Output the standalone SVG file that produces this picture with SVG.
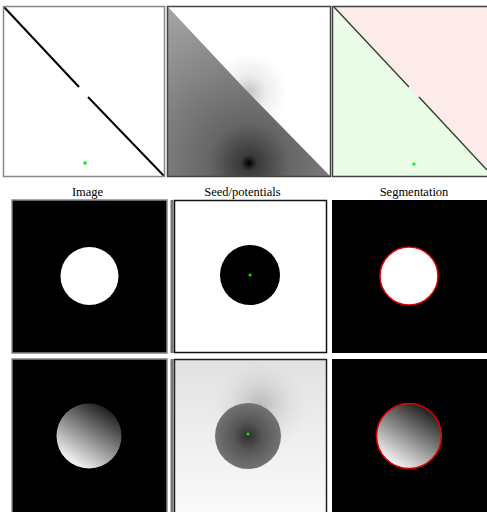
<svg xmlns="http://www.w3.org/2000/svg" width="487" height="512" viewBox="0 0 487 512">
<style>
.pbord{fill:none;stroke:#444;stroke-width:1.5}
.gbord{fill:none;stroke:#888;stroke-width:1.5}
.title{font-family:"Liberation Serif","Times New Roman",serif;font-size:12.5px;fill:#000;text-anchor:middle}
.seed{fill:#00ee00}
</style>
<defs>
<clipPath id="cB"><rect x="168" y="7" width="163" height="170"/></clipPath>
<clipPath id="cC"><rect x="332" y="7" width="155" height="170"/></clipPath>
<radialGradient id="potLow" cx="249" cy="163" r="200" gradientUnits="userSpaceOnUse">
<stop offset="0" stop-color="#000"/>
<stop offset="0.04" stop-color="#3a3a3a"/>
<stop offset="0.2" stop-color="#666"/>
<stop offset="0.6" stop-color="#8e8e8e"/>
<stop offset="1" stop-color="#b0b0b0"/>
</radialGradient>
<radialGradient id="potHigh" cx="249" cy="92" r="38" gradientUnits="userSpaceOnUse">
<stop offset="0" stop-color="#c4c4c4"/>
<stop offset="0.45" stop-color="#ededed"/>
<stop offset="1" stop-color="#fff"/>
</radialGradient>
<linearGradient id="shade" x1="0.85" y1="0.05" x2="0.25" y2="0.98">
<stop offset="0" stop-color="#111"/>
<stop offset="1" stop-color="#fff"/>
</linearGradient>
<linearGradient id="bgPot" x1="0" y1="0" x2="0" y2="1">
<stop offset="0" stop-color="#e2e2e2"/>
<stop offset="1" stop-color="#fbfbfb"/>
</linearGradient>
<radialGradient id="circPot" cx="248" cy="436" r="34" gradientUnits="userSpaceOnUse">
<stop offset="0" stop-color="#2e2e2e"/>
<stop offset="0.4" stop-color="#555"/>
<stop offset="1" stop-color="#747474"/>
</radialGradient>
<radialGradient id="halo" cx="260" cy="405" r="50" gradientUnits="userSpaceOnUse">
<stop offset="0" stop-color="#999" stop-opacity="0.6"/>
<stop offset="1" stop-color="#ddd" stop-opacity="0"/>
</radialGradient>
</defs>

<!-- Row 1 -->
<g id="r1-image">
<rect x="3.5" y="6.5" width="161" height="170" fill="#fff"/>
<line x1="4" y1="7" x2="79" y2="87" stroke="#000" stroke-width="2"/>
<line x1="88" y1="97" x2="164" y2="176" stroke="#000" stroke-width="2"/>
<rect x="83.5" y="161.5" width="3" height="3" class="seed"/>
<rect x="3.5" y="6.5" width="161" height="170" class="gbord"/>
</g>
<g id="r1-potentials">
<g clip-path="url(#cB)">
<rect x="168" y="7" width="163" height="170" fill="url(#potHigh)"/>
<polygon points="168,7 244,88 331,177 168,177" fill="url(#potLow)"/>
<circle cx="249" cy="163" r="1.2" fill="#000"/>
</g>
<rect x="167.5" y="6.5" width="163" height="170" class="pbord"/>
</g>
<g id="r1-segmentation">
<g clip-path="url(#cC)">
<rect x="332" y="7" width="155" height="170" fill="#fdeaea"/>
<polygon points="333,7 487,170 487,177 332,177" fill="#ebfde8"/>
<line x1="334" y1="7" x2="409" y2="87" stroke="#2f4a2f" stroke-width="1.5"/>
<line x1="419" y1="97" x2="487" y2="170" stroke="#2f4a2f" stroke-width="1.5"/>
<circle cx="414" cy="164" r="1.6" class="seed"/>
</g>
<rect x="332.5" y="6.5" width="156" height="170" class="pbord"/>
</g>

<!-- Titles -->
<g id="titles">
<text x="87.5" y="196" class="title">Image</text>
<text x="242.5" y="196" class="title">Seed/potentials</text>
<text x="414" y="196" class="title">Segmentation</text>
</g>

<!-- Row 2 -->
<g id="r2-image">
<rect x="12" y="200" width="155" height="153" fill="#000"/>
<circle cx="89.5" cy="276" r="29" fill="#fff"/>
<rect x="12" y="200" width="155" height="153" class="gbord"/>
</g>
<g id="r2-potentials">
<rect x="170.5" y="200" width="3" height="153" fill="#777"/>
<rect x="174.5" y="200.5" width="152" height="152" fill="#fff" stroke="#111" stroke-width="1.5"/>
<circle cx="250" cy="275" r="30" fill="#000"/>
<circle cx="250" cy="275" r="1.5" class="seed"/>
</g>
<g id="r2-segmentation">
<rect x="332" y="200" width="155" height="153" fill="#000"/>
<circle cx="409" cy="276" r="29" fill="#fff" stroke="#e00000" stroke-width="1.6"/>
</g>

<!-- Row 3 -->
<g id="r3-image">
<rect x="12" y="359" width="155" height="153" fill="#000"/>
<circle cx="89" cy="436" r="32.5" fill="url(#shade)"/>
<rect x="12" y="359" width="155" height="160" class="gbord"/>
</g>
<g id="r3-potentials">
<rect x="170.5" y="359" width="3" height="153" fill="#777"/>
<rect x="174.5" y="359.5" width="152" height="160" fill="url(#bgPot)" stroke="#222" stroke-width="1.5"/>
<ellipse cx="262" cy="405" rx="55" ry="45" fill="url(#halo)"/>
<circle cx="248" cy="436" r="33" fill="url(#circPot)"/>
<circle cx="248" cy="434" r="1.6" class="seed"/>
</g>
<g id="r3-segmentation">
<rect x="332" y="359" width="155" height="153" fill="#000"/>
<circle cx="409" cy="436" r="32.5" fill="url(#shade)" stroke="#e00000" stroke-width="1.6"/>
</g>
</svg>
